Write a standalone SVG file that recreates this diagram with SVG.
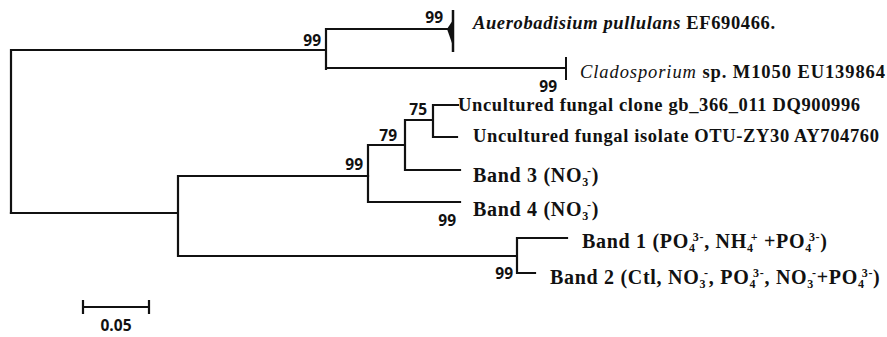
<svg xmlns="http://www.w3.org/2000/svg" width="887" height="337" viewBox="0 0 887 337">
<style>
.br{fill:none;stroke:#111;stroke-width:2.2;stroke-linecap:square}
.bs{font-family:"Open Sans","Liberation Sans",sans-serif;font-weight:bold;font-size:15.5px;fill:#111;text-anchor:end}
.tx{font-family:"Liberation Serif",serif;font-size:18.5px;font-weight:bold;fill:#111}
.it{font-style:italic}
.band{font-family:"Liberation Serif",serif;font-size:20px;font-weight:bold;fill:#111;letter-spacing:0.7px}
.s{font-size:12px}
</style>
<rect width="887" height="337" fill="#fff"/>
<g id="connectors">
<path class="br" d="M11,50V213M11,50H326M326,29V69M326,29H447M326,68H565"/>
<path class="br" d="M11,213H178M178,176V256M178,176H368M178,256H517M517,238V273M517,238H567M517,273H535"/>
<path class="br" d="M368,145V202M368,145H405M368,202H460M405,120V170M405,170H460M405,120H433M433,105V137M433,105H458M433,137H457"/>
<path d="M453,10V52" stroke="#111" stroke-width="2.5"/>
<path d="M447,29L453,20L453,46Z" fill="#111"/>
<path d="M566,57V80" stroke="#111" stroke-width="2"/>
</g>
<g id="bootstrap">
<text class="bs" x="321" y="46">99</text>
<text class="bs" x="443" y="23">99</text>
<text class="bs" x="557" y="92">99</text>
<text class="bs" x="427" y="115">75</text>
<text class="bs" x="397" y="141">79</text>
<text class="bs" x="363" y="170">99</text>
<text class="bs" x="456" y="226">99</text>
<text class="bs" x="513" y="279">99</text>
</g>
<g id="aureobasidium">
<text class="tx" x="473" y="29" textLength="302"><tspan class="it">Auerobadisium pullulans</tspan> EF690466.</text>
</g>
<g id="cladosporium">
<text class="tx" x="580" y="78" textLength="305"><tspan class="it" font-weight="normal">Cladosporium</tspan> sp. M1050 EU139864</text>
</g>
<g id="clone">
<text class="tx" x="458" y="111" textLength="402">Uncultured fungal clone gb_366_011 DQ900996</text>
</g>
<g id="isolate">
<text class="tx" x="473" y="142" textLength="406">Uncultured fungal isolate OTU-ZY30 AY704760</text>
</g>
<g id="band3">
<text class="band" x="473" y="182">Band 3 (NO<tspan class="s" dy="4">3</tspan><tspan class="s" dx="-2" dy="-11">-</tspan><tspan dy="7">)</tspan></text>
</g>
<g id="band4">
<text class="band" x="473" y="216">Band 4 (NO<tspan class="s" dy="4">3</tspan><tspan class="s" dx="-2" dy="-11">-</tspan><tspan dy="7">)</tspan></text>
</g>
<g id="band1">
<text class="band" x="582" y="248">Band 1 (PO<tspan class="s" dy="4">4</tspan><tspan class="s" dx="-3" dy="-11">3-</tspan><tspan dy="7">, NH</tspan><tspan class="s" dy="4">4</tspan><tspan class="s" dx="-3" dy="-11">+</tspan><tspan dy="7"> +PO</tspan><tspan class="s" dy="4">4</tspan><tspan class="s" dx="-3" dy="-11">3-</tspan><tspan dy="7">)</tspan></text>
</g>
<g id="band2">
<text class="band" x="550" y="284">Band 2 (Ctl, NO<tspan class="s" dy="4">3</tspan><tspan class="s" dx="-2" dy="-11">-</tspan><tspan dy="7">, PO</tspan><tspan class="s" dy="4">4</tspan><tspan class="s" dx="-3" dy="-11">3-</tspan><tspan dy="7">, NO</tspan><tspan class="s" dy="4">3</tspan><tspan class="s" dx="-2" dy="-11">-</tspan><tspan dy="7">+PO</tspan><tspan class="s" dy="4">4</tspan><tspan class="s" dx="-3" dy="-11">3-</tspan><tspan dy="7">)</tspan></text>
</g>
<g id="scale">
<path class="br" d="M83,307H149M83,301V313M149,301V313"/>
<text class="bs" x="116" y="331" style="text-anchor:middle">0.05</text>
</g>
</svg>
